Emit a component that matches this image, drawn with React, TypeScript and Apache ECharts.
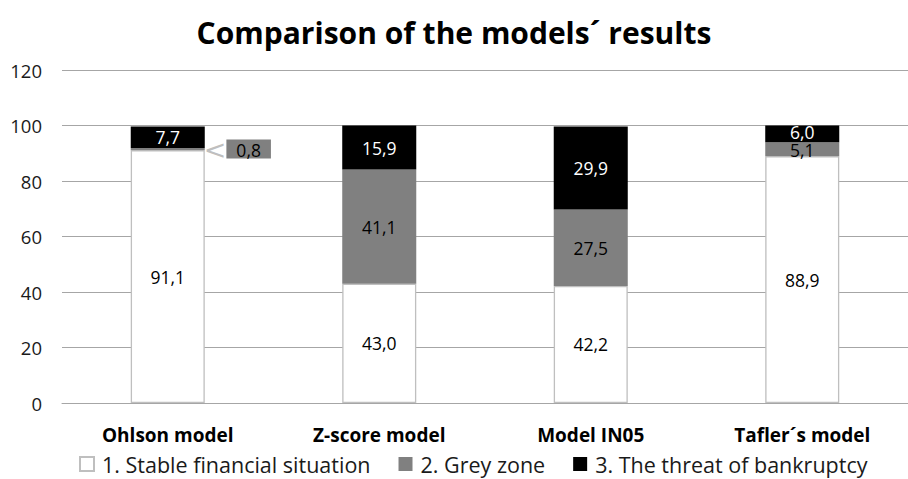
import React, { useEffect, useRef } from "react";
import * as echarts from "echarts";

const categories = ["Ohlson model", "Z-score model", "Model IN05", "Tafler´s model"];
const seriesNames = ["1. Stable financial situation", "2. Grey zone", "3. The threat of bankruptcy"];
const stable = [91.1, 43.0, 42.2, 88.9];
const grey = [0.8, 41.1, 27.5, 5.1];
const threat = [7.7, 15.9, 29.9, 6.0];
const yTicks = [0, 20, 40, 60, 80, 100, 120];

const FONT = "Open Sans";
const fmt = (v: number) => v.toFixed(1).replace(".", ",");

export default function App() {
  const ref = useRef<HTMLDivElement>(null);
  useEffect(() => {
    if (!ref.current) return;
    const chart = echarts.init(ref.current, undefined, { renderer: "svg" });
    const baseLabel = {
      show: true,
      position: "inside",
      fontFamily: FONT,
      fontSize: 17.5,
      formatter: (p: any) => fmt(p.value),
    };
    chart.setOption({
      animation: false,
      backgroundColor: "#ffffff",
      textStyle: { fontFamily: FONT },
      title: {
        text: "Comparison of the models´ results",
        left: "center",
        top: 12,
        textStyle: { fontFamily: FONT, fontSize: 30, fontWeight: "bold", color: "#000" },
      },
      grid: { left: 62, right: -9, top: 70, bottom: 76, containLabel: false },
      legend: {
        top: 448,
        left: 74,
        itemWidth: 14,
        itemHeight: 14,
        itemGap: 28,
        textStyle: { fontFamily: FONT, fontSize: 21.5, color: "#1a1a1a", padding: [0, 0, 0, 3] },
        data: seriesNames.map((n) => ({ name: n, icon: "rect" })),
      },
      xAxis: {
        type: "category",
        data: categories,
        axisLine: { show: true, lineStyle: { color: "#a6a6a6", width: 1 } },
        axisTick: { show: false },
        axisLabel: {
          fontFamily: FONT,
          fontSize: 19,
          fontWeight: "bold",
          color: "#000",
          margin: 22,
        },
      },
      yAxis: {
        type: "value",
        min: yTicks[0],
        max: yTicks[yTicks.length - 1],
        interval: 20,
        axisLine: { show: false },
        axisTick: { show: false },
        axisLabel: { fontFamily: FONT, fontSize: 18.5, color: "#1a1a1a", margin: 20 },
        splitLine: { lineStyle: { color: "#a6a6a6", width: 1 } },
      },
      series: [
        {
          name: seriesNames[0],
          type: "bar",
          stack: "total",
          barWidth: "35%",
          data: stable,
          itemStyle: { color: "#ffffff", borderColor: "#bfbfbf", borderWidth: 1.3 },
          label: { ...baseLabel, color: "#000" },
        },
        {
          name: seriesNames[1],
          type: "bar",
          stack: "total",
          data: grey.map((v, i) =>
            i === 0
              ? {
                  value: v,
                  label: {
                    show: true,
                    position: "right",
                    distance: -1,
                    formatter: (p: any) => "{a|<}{b|" + fmt(p.value) + "}",
                    rich: {
                      a: {
                        fontFamily: "DejaVu Sans",
                        fontSize: 27,
                        fontWeight: "normal",
                        color: "#bfbfbf",
                        padding: [0, 0, 0, 0],
                      },
                      b: {
                        fontFamily: FONT,
                        fontSize: 17.5,
                        color: "#000",
                        backgroundColor: "#808080",
                        padding: [1, 10, 0, 10],
                      },
                    },
                  },
                }
              : i === 3
              ? { value: v, label: { offset: [0, 1] } }
              : v
          ),
          itemStyle: { color: "#808080" },
          label: { ...baseLabel, color: "#000" },
        },
        {
          name: seriesNames[2],
          type: "bar",
          stack: "total",
          data: threat.map((v, i) => (i === 3 ? { value: v, label: { offset: [0, -2] } } : v)),
          itemStyle: { color: "#000000" },
          label: { ...baseLabel, color: "#ffffff" },
        },
      ],
    });
    return () => chart.dispose();
  }, []);
  return (
    <div
      ref={ref}
      style={{ position: "fixed", left: 0, top: 0, width: 908, height: 479 }}
    />
  );
}
